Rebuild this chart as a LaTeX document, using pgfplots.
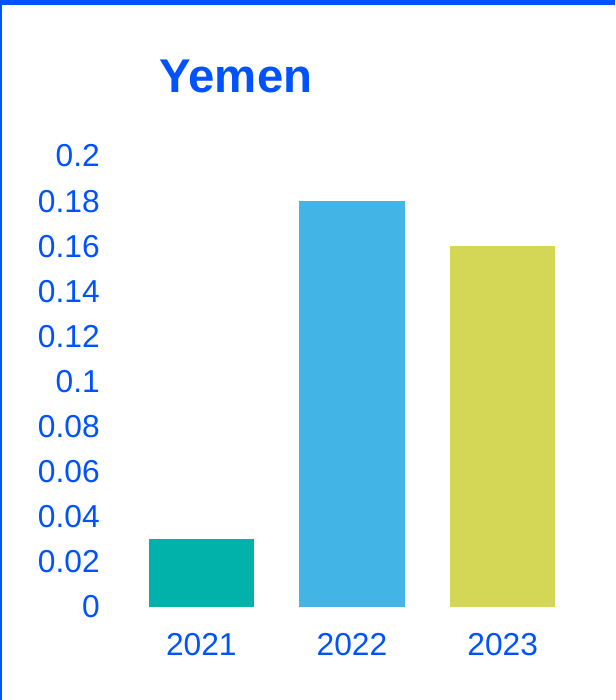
\documentclass[border=0pt]{standalone}
\usepackage{fontspec}
\setmainfont{Liberation Sans}
\usepackage{pgfplots}
\pgfplotsset{compat=1.18}
\definecolor{FrameBlue}{HTML}{0052FF}
\definecolor{BarTeal}{HTML}{00B2A9}
\definecolor{BarSky}{HTML}{42B4E6}
\definecolor{BarLime}{HTML}{D4D755}
\begin{document}
\begin{tikzpicture}
  % page frame (1px = 0.75pt)
  \useasboundingbox (0,0) rectangle (461.25pt,525pt);
  \fill[FrameBlue] (0,521.25pt) rectangle (461.25pt,525pt);
  \fill[FrameBlue] (0,0) rectangle (1.5pt,525pt);
  \node[anchor=base, text=FrameBlue, font=\fontsize{35.5}{40}\selectfont\bfseries] at (177pt,455.25pt) {Yemen};
  \begin{axis}[
    at={(94.5pt,69.75pt)}, anchor=south west,
    scale only axis,
    width=339pt, height=338.25pt,
    xmin=-0.5, xmax=2.5,
    ymin=0, ymax=0.2,
    ybar, bar width=78.75pt, bar shift=0pt,
    axis line style={draw=none},
    major tick length=0pt,
    xtick={0,1,2},
    xticklabels={2021,2022,2023},
    ytick={0,0.02,0.04,0.06,0.08,0.1,0.12,0.14,0.16,0.18,0.2},
    /pgf/number format/.cd, fixed, precision=2, assume math mode=true,
    /pgfplots/.cd,
    tick label style={text=FrameBlue, font=\fontsize{23.8}{27}\selectfont, inner sep=0pt},
    yticklabel style={anchor=east, xshift=-19.5pt},
    xticklabel style={anchor=north, yshift=-19.5pt},
  ]
  \addplot[fill=BarTeal, draw=none] coordinates {(0,0.03)};
  \addplot[fill=BarSky, draw=none] coordinates {(1,0.18)};
  \addplot[fill=BarLime, draw=none] coordinates {(2,0.16)};
  \end{axis}
\end{tikzpicture}
\end{document}
